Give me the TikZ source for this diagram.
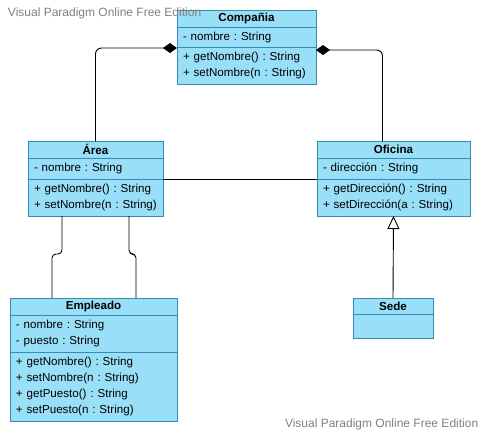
\documentclass[tikz,border=0pt]{standalone}
\usepackage{fontspec}
\setmainfont{Liberation Sans}
\usetikzlibrary{positioning}
\usetikzlibrary{arrows.meta}

\definecolor{vpfill}{RGB}{153,223,247}
\definecolor{vpline}{RGB}{52,140,178}
\definecolor{vpmark}{RGB}{128,128,128}

\begin{document}
\frenchspacing
\begin{tikzpicture}[ x = 1pt, y = -1pt
                   , font = \fontsize{11.6pt}{16pt}\selectfont
                   , every node/.style = { inner sep = 0pt
                                         , outer sep = 0pt }
                   , head/.style = { draw = vpline
                                   , fill = vpfill
                                   , anchor = north west
                                   , minimum width = #1
                                   , minimum height = 17pt
                                   , font = \fontsize{11.6pt}{16pt}\selectfont\bfseries }
                   , part/.style = { draw = vpline
                                   , fill = vpfill
                                   , text width = #1
                                   , inner xsep = 6pt
                                   , align = left }
                   , link/.style = { draw = black
                                   , line width = 0.9pt }
                   ]
  \useasboundingbox (0,0) rectangle (484,432);

  %%
  %% Classes
  %%
  \node (compH) [head=139] at (177,10) {Compañia};
  \node (compA) [part=127, below = 0pt of compH, minimum height=20pt] {- nombre : String};
  \node (compM) [part=127, below = 0pt of compA, minimum height=37pt]
        {+ getNombre() : String\\+ setNombre(n : String)};

  \node (areaH) [head=135] at (28,141) {Área};
  \node (areaA) [part=123, below = 0pt of areaH, minimum height=21pt] {- nombre : String};
  \node (areaM) [part=123, below = 0pt of areaA, minimum height=37pt]
        {+ getNombre() : String\\+ setNombre(n : String)};

  \node (ofiH) [head=153] at (317,141) {Oficina};
  \node (ofiA) [part=141, below = 0pt of ofiH, minimum height=21pt] {- dirección : String};
  \node (ofiM) [part=141, below = 0pt of ofiA, minimum height=37pt]
        {+ getDirección() : String\\+ setDirección(a : String)};

  \node (empH) [head=167] at (10,298) {Empleado};
  \node (empA) [part=155, below = 0pt of empH, minimum height=37pt]
        {- nombre : String\\- puesto : String};
  \node (empM) [part=155, below = 0pt of empA, minimum height=69pt]
        {+ getNombre() : String\\+ setNombre(n : String)\\+ getPuesto() : String\\+ setPuesto(n : String)};

  \node (sedeH) [head=80, minimum height=16pt] at (353,298) {Sede};
  \node (sedeB) [part=68, below = 0pt of sedeH, minimum height=24pt] {};

  %%
  %% Watermarks
  %%
  \node (wmtop) [anchor=base west, text=vpmark, font=\fontsize{12pt}{14pt}\selectfont]
        at (8,16) {Visual Paradigm Online Free Edition};
  \node (wmbot) [anchor=base west, text=vpmark, font=\fontsize{12pt}{14pt}\selectfont]
        at (285,427) {Visual Paradigm Online Free Edition};

  %%
  %% Relationships
  %%
  % Composition with the company.
  \draw[link, rounded corners=6pt, -{Diamond[length=14pt, width=10pt]}]
       (areaH.north) |- ([yshift=-1pt]compM.north west);
  \draw[link, rounded corners=6pt, -{Diamond[length=14pt, width=10pt]}]
       ([xshift=-11pt]ofiH.north) |- ([yshift=-3pt]compM.north east);
  % Plain associations.
  \draw[link] (areaM.north east) -- (ofiM.north west);
  \draw[link, rounded corners=4pt]
       ([xshift=-33.5pt]areaM.south) -- ++(0,38) -| ([xshift=-41.5pt]empH.north);
  \draw[link, rounded corners=4pt]
       ([xshift=33.5pt]areaM.south) -- ++(0,38) -| ([xshift=42.5pt]empH.north);
  % Generalization.
  \draw[link, -{Triangle[open, length=13pt, width=12pt]}] (sedeH.north) -- (ofiM.south);
\end{tikzpicture}
\end{document}
